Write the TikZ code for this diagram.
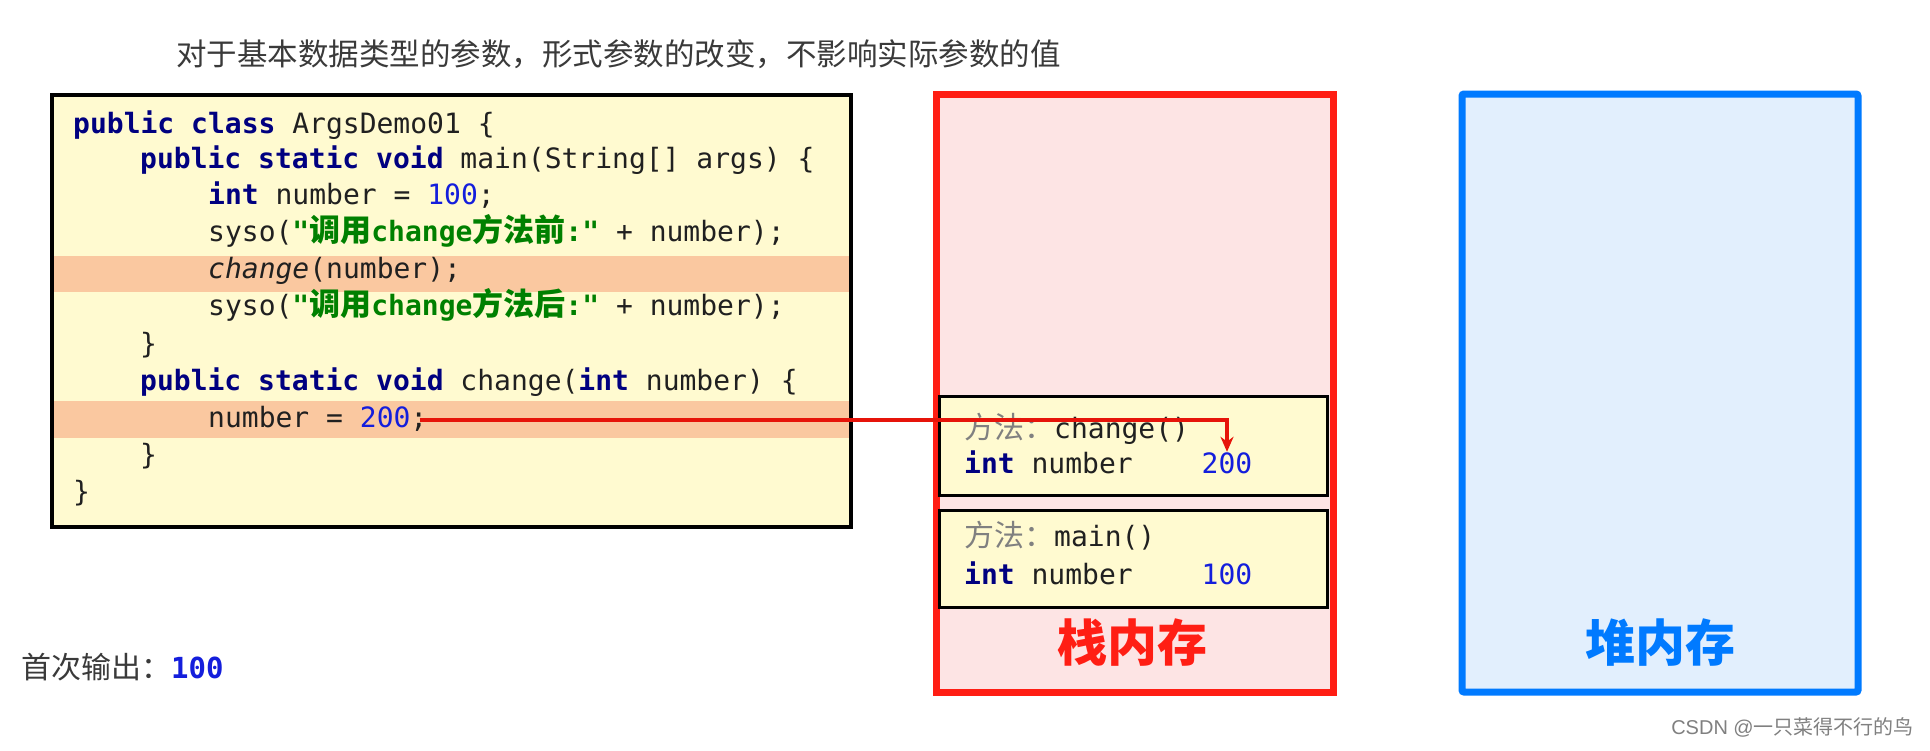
\documentclass[tikz,border=0pt]{standalone}
\usepackage{fontspec}
\setmainfont{Liberation Sans}
\setmonofont{DejaVu Sans Mono}
\newfontfamily\cjk{Noto Sans CJK SC}
\usetikzlibrary{positioning, arrows.meta}

\definecolor{codebg}{RGB}{255,250,208}
\definecolor{band}{RGB}{250,200,160}
\definecolor{stackbg}{RGB}{253,228,228}
\definecolor{heapbg}{RGB}{226,239,253}
\definecolor{stackred}{RGB}{255,30,20}
\definecolor{heapblue}{RGB}{0,122,255}
\definecolor{kwnavy}{RGB}{0,0,128}
\definecolor{strgreen}{RGB}{0,128,0}
\definecolor{numblue}{RGB}{20,30,220}
\definecolor{codetext}{RGB}{32,32,32}
\definecolor{titlegray}{RGB}{58,58,58}
\definecolor{arrowred}{RGB}{230,20,10}

\newcommand{\jkw}[1]{\textcolor{kwnavy}{\bfseries #1}}
\newcommand{\jnum}[1]{\textcolor{numblue}{#1}}
\newcommand{\jstr}[1]{\textcolor{strgreen}{\bfseries #1}}
\newcommand{\jcjk}[1]{{\cjk\fontsize{31}{34}\selectfont #1}}
\newcommand{\fangfa}{{\cjk\color{gray}\fontsize{30}{34}\selectfont 方法：}}

\tikzset{
  codeline/.style={anchor=west, inner sep=0pt, text height=21pt, text depth=7pt,
    font=\ttfamily\fontsize{28}{34}\selectfont, text=codetext},
  framebox/.style={draw=black, line width=3pt, fill=codebg},
  memlabel/.style={font=\cjk\bfseries\fontsize{50}{60}\selectfont},
}

\begin{document}
\begin{tikzpicture}[x=1pt, y=-1pt, >={Stealth[length=15pt, width=13pt]}]
  \fill[white] (0,0) rectangle (1930,750);
  \useasboundingbox (0,0) rectangle (1930,750);

  % title
  \node[anchor=west, inner sep=0pt, text=titlegray, font=\cjk\fontsize{30.5}{36}\selectfont]
    (title) at (176,54) {对于基本数据类型的参数，形式参数的改变，不影响实际参数的值};

  % code box
  \fill[codebg] (52,95) rectangle (851,527);
  \fill[band] (52,256) rectangle (851,292);
  \fill[band] (52,401) rectangle (851,438);
  \draw[line width=3.5pt] (52,95) rectangle (851,527);

  \node[codeline] (c1) at (73,126) {\jkw{public class} ArgsDemo01 \{};
  \node[codeline] (c2) at (140,161) {\jkw{public static void} main(String[] args) \{};
  \node[codeline] (c3) at (208,197) {\jkw{int} number = \jnum{100};};
  \node[codeline] (c4) at (208,234) {syso(\jstr{"\jcjk{调用}change\jcjk{方法前}:"} + number);};
  \node[codeline] (c5) at (208,271) {\textit{change}(number);};
  \node[codeline] (c6) at (208,308) {syso(\jstr{"\jcjk{调用}change\jcjk{方法后}:"} + number);};
  \node[codeline] (c7) at (140,346) {\}};
  \node[codeline] (c8) at (140,383) {\jkw{public static void} change(\jkw{int} number) \{};
  \node[codeline] (c200) at (208,420) {number = \jnum{200};};
  \node[codeline] (c10) at (140,457) {\}};
  \node[codeline] (c11) at (73,494) {\}};

  % stack and heap
  \draw[stackred, line width=7pt, fill=stackbg] (936,94) rectangle (1333,692);
  \draw[heapblue, line width=7pt, fill=heapbg, rounded corners=2pt] (1462,94) rectangle (1858,692);

  \draw[framebox] (939,396) rectangle (1327,495);
  \draw[framebox] (939,510) rectangle (1327,607);

  \node[codeline] (fchange) at (964,431) {\fangfa change()};
  \node[codeline] (ichange) at (964,466) {\jkw{int} number};
  \node[codeline, anchor=center] (val200) at (1227,466) {\jnum{200}};
  \node[codeline] (fmain) at (964,539) {\fangfa main()};
  \node[codeline] (imain) at (964,577) {\jkw{int} number};
  \node[codeline, anchor=center] (val100) at (1227,577) {\jnum{100}};

  \node[memlabel, text=stackred] (stack) at (1132,643) {栈内存};
  \node[memlabel, text=heapblue] (heap) at (1660,643) {堆内存};

  % assignment arrow
  \draw[arrowred, line width=4pt, ->] ([xshift=-8pt]c200.east) -| (val200.north);

  % output
  \node[anchor=west, inner sep=0pt, text=titlegray, font=\cjk\fontsize{30}{34}\selectfont]
    (out) at (21,667) {首次输出：\textcolor{numblue}{\ttfamily\bfseries\fontsize{29}{34}\selectfont 100}};

  \node[anchor=east, inner sep=0pt, text=gray, font=\fontsize{20}{24}\selectfont]
    (mark) at (1914,727) {CSDN @{\cjk 一只菜得不行的鸟}};
\end{tikzpicture}
\end{document}
